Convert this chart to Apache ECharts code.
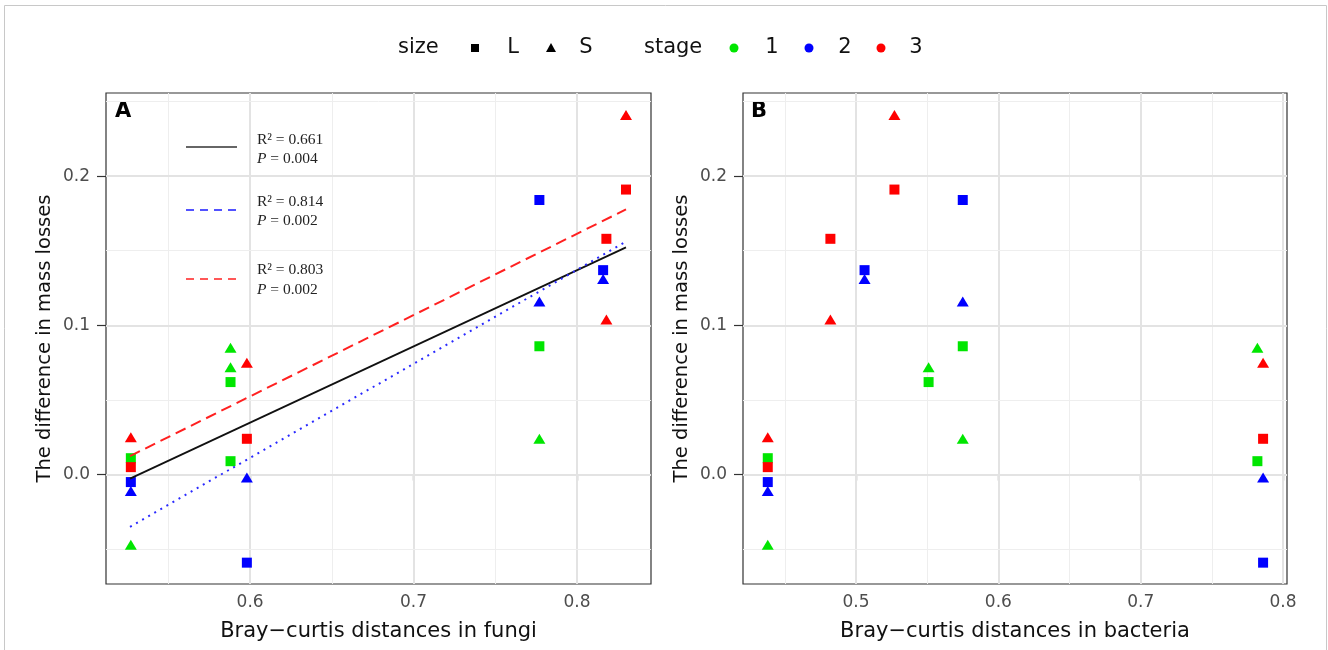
<!DOCTYPE html>
<html><head><meta charset="utf-8">
<script src="https://cdn.jsdelivr.net/npm/echarts@6/dist/echarts.min.js"></script>
<style>html,body{margin:0;padding:0;background:#fff}#c{width:1328px;height:650px}</style>
</head><body><div id="c"></div>
<script>
// ---- data ----
const stage = [3,3,2,3,2,2,2,3,1,1,3,1,1,3,1,3,1,1,3,2,2,2,1,2];
const size = ['S','L','L','L','L','S','S','S','L','S','S','S','L','S','S','L','L','L','L','S','L','S','S','L'];
const fungiDist = [0.830,0.830,0.777,0.818,0.816,0.816,0.777,0.818,0.777,0.588,0.598,0.588,0.588,0.527,0.777,0.598,0.527,0.588,0.527,0.598,0.527,0.527,0.527,0.598];
const bacteriaDist = [0.527,0.527,0.575,0.482,0.506,0.506,0.575,0.482,0.575,0.782,0.786,0.551,0.551,0.438,0.575,0.786,0.438,0.782,0.438,0.786,0.438,0.438,0.438,0.786];
const massLossDiff = [0.241,0.191,0.184,0.158,0.137,0.131,0.116,0.104,0.086,0.085,0.075,0.072,0.062,0.025,0.024,0.024,0.011,0.009,0.005,-0.002,-0.005,-0.011,-0.047,-0.059];

// fitted lines in panel A (end points)
const fitAllX = [0.5265, 0.830];
const fitAllY = [-0.0027, 0.1523];
const fitBlueX = [0.5265, 0.829];
const fitBlueY = [-0.035, 0.1555];
const fitRedX = [0.5265, 0.830];
const fitRedY = [0.0124, 0.1777];
const fitLabels = [['R² = 0.661','0.004'],['R² = 0.814','0.002'],['R² = 0.803','0.002']];

// axes
const xRangeA = [0.5118, 0.8453];
const xRangeB = [0.4206, 0.8028];
const yRange = [-0.0733, 0.2557];
const xTicksA = [0.6, 0.7, 0.8];
const xMinorA = [0.55, 0.65, 0.75];
const xTicksB = [0.5, 0.6, 0.7, 0.8];
const xMinorB = [0.45, 0.55, 0.65, 0.75];
const yTicks = [0.0, 0.1, 0.2];
const yMinor = [-0.05, 0.05, 0.15, 0.25];

const stageColors = {1:'#00e600', 2:'#0000ff', 3:'#ff0000'};

// ---- build ----
const F = 'DejaVu Sans';
const majorStyle = {color:'#e3e3e3', width:2, type:'solid'};
const minorStyle = {color:'#eeeeee', width:1, type:'solid'};

function gridLines(xi, xMaj, xMin){
  const d = [];
  xMaj.forEach(v=>d.push({xAxis:v, lineStyle:majorStyle}));
  xMin.forEach(v=>d.push({xAxis:v, lineStyle:minorStyle}));
  yTicks.forEach(v=>d.push({yAxis:v, lineStyle:majorStyle}));
  yMinor.forEach(v=>d.push({yAxis:v, lineStyle:minorStyle}));
  return {type:'scatter', xAxisIndex:xi, yAxisIndex:xi, data:[], silent:true, z:1,
    markLine:{silent:true, symbol:['none','none'], label:{show:false}, animation:false, data:d}};
}
function points(xi, xs){
  return {type:'scatter', xAxisIndex:xi, yAxisIndex:xi, z:5, silent:true,
    data: xs.map((x,i)=>({
      value:[x, massLossDiff[i]],
      symbol: size[i]==='L' ? 'rect' : 'triangle',
      symbolSize: size[i]==='L' ? [10,10] : [12,10],
      itemStyle:{color: stageColors[stage[i]], opacity:1}
    }))};
}
function fitLine(xs, ys, style){
  return {type:'line', xAxisIndex:0, yAxisIndex:0, z:6, silent:true, symbol:'none',
    data: xs.map((x,i)=>[x, ys[i]]), lineStyle:style};
}
function xAxis(gi, rng, ticks, name){
  return {gridIndex:gi, type:'value', min:rng[0], max:rng[1],
    splitLine:{show:false}, axisLine:{show:false},
    axisTick:{show:true, customValues:ticks, length:6, lineStyle:{color:'#333', width:1.2}},
    axisLabel:{customValues:ticks, formatter:v=>v.toFixed(1), color:'#4d4d4d', fontSize:17, fontFamily:F, margin:10},
    name:name, nameLocation:'middle', nameGap:37,
    nameTextStyle:{fontSize:21, fontFamily:F, color:'#111'}};
}
function yAxis(gi){
  return {gridIndex:gi, type:'value', min:yRange[0], max:yRange[1],
    splitLine:{show:false}, axisLine:{show:false},
    axisTick:{show:true, customValues:yTicks, length:9, lineStyle:{color:'#333', width:1.2}},
    axisLabel:{customValues:yTicks, formatter:v=>v.toFixed(1), color:'#4d4d4d', fontSize:17, fontFamily:F, margin:16},
    name:'The difference in mass losses', nameLocation:'middle', nameGap:51,
    nameTextStyle:{fontSize:19.5, fontFamily:F, color:'#111'}};
}

const LY = 48;
const graphic = [
  {type:'rect', shape:{x:4.5, y:5.5, width:1322, height:660}, style:{fill:'none', stroke:'#c8c8c8', lineWidth:1}, silent:true},
  // top legend
  {type:'text', x:398, y:LY, style:{text:'size', font:'21px "DejaVu Sans"', fill:'#111', align:'left', verticalAlign:'middle'}},
  {type:'rect', shape:{x:471, y:LY-4, width:8, height:8}, style:{fill:'#000'}},
  {type:'text', x:513, y:LY, style:{text:'L', font:'21px "DejaVu Sans"', fill:'#111', align:'center', verticalAlign:'middle'}},
  {type:'polygon', shape:{points:[[551,LY-5],[556,LY+4],[546,LY+4]]}, style:{fill:'#000'}},
  {type:'text', x:586, y:LY, style:{text:'S', font:'21px "DejaVu Sans"', fill:'#111', align:'center', verticalAlign:'middle'}},
  {type:'text', x:644, y:LY, style:{text:'stage', font:'21px "DejaVu Sans"', fill:'#111', align:'left', verticalAlign:'middle'}},
  {type:'circle', shape:{cx:734, cy:LY, r:4.5}, style:{fill:stageColors[1]}},
  {type:'text', x:772, y:LY, style:{text:'1', font:'21px "DejaVu Sans"', fill:'#111', align:'center', verticalAlign:'middle'}},
  {type:'circle', shape:{cx:809, cy:LY, r:4.5}, style:{fill:stageColors[2]}},
  {type:'text', x:845, y:LY, style:{text:'2', font:'21px "DejaVu Sans"', fill:'#111', align:'center', verticalAlign:'middle'}},
  {type:'circle', shape:{cx:881, cy:LY, r:4.5}, style:{fill:stageColors[3]}},
  {type:'text', x:916, y:LY, style:{text:'3', font:'21px "DejaVu Sans"', fill:'#111', align:'center', verticalAlign:'middle'}},
  // panel labels
  {type:'text', x:115, y:112, style:{text:'A', font:'bold 21px "DejaVu Sans"', fill:'#000', verticalAlign:'middle'}},
  {type:'text', x:751, y:112, style:{text:'B', font:'bold 21px "DejaVu Sans"', fill:'#000', verticalAlign:'middle'}},
  // in-plot fit legend
  {type:'line', shape:{x1:186, y1:147, x2:237, y2:147}, style:{stroke:'#333', lineWidth:1.6}},
  {type:'line', shape:{x1:186, y1:210, x2:237, y2:210}, style:{stroke:'#1a1aff', lineWidth:1.6, lineDash:[8,6]}},
  {type:'line', shape:{x1:186, y1:279, x2:237, y2:279}, style:{stroke:'#ff2020', lineWidth:1.6, lineDash:[8,6]}}
];
const legY = [[139.5,158.5],[201.5,221],[270,289.5]];
fitLabels.forEach((l,i)=>{
  graphic.push({type:'text', x:257, y:legY[i][0], style:{text:l[0], font:'15.5px "Liberation Serif"', fill:'#222', verticalAlign:'middle'}});
  graphic.push({type:'text', x:257, y:legY[i][1], style:{text:'{i|P}{n| = '+l[1]+'}', verticalAlign:'middle',
    rich:{i:{fontFamily:'Liberation Serif', fontStyle:'italic', fontSize:15.5, fill:'#222', color:'#222'},
          n:{fontFamily:'Liberation Serif', fontSize:15.5, fill:'#222', color:'#222'}}}});
});

const option = {
  backgroundColor:'#fff',
  animation:false,
  grid:[
    {left:106, top:93, width:545, height:491, show:true, borderColor:'#333', borderWidth:1.2, backgroundColor:'#fff', containLabel:false},
    {left:743, top:93, width:544, height:491, show:true, borderColor:'#333', borderWidth:1.2, backgroundColor:'#fff', containLabel:false}
  ],
  xAxis:[xAxis(0, xRangeA, xTicksA, 'Bray\u2212curtis distances in fungi'), xAxis(1, xRangeB, xTicksB, 'Bray\u2212curtis distances in bacteria')],
  yAxis:[yAxis(0), yAxis(1)],
  series:[
    gridLines(0, xTicksA, xMinorA),
    gridLines(1, xTicksB, xMinorB),
    points(0, fungiDist),
    points(1, bacteriaDist),
    fitLine(fitAllX, fitAllY, {color:'#111', width:1.8, type:'solid'}),
    fitLine(fitBlueX, fitBlueY, {color:'#2a2aff', width:2, type:[2,5]}),
    fitLine(fitRedX, fitRedY, {color:'#ff2020', width:2, type:[11,6]})
  ],
  graphic: graphic
};
const chart = echarts.init(document.getElementById('c'), null, {renderer:'canvas'});
chart.setOption(option);
</script>
</body></html>
